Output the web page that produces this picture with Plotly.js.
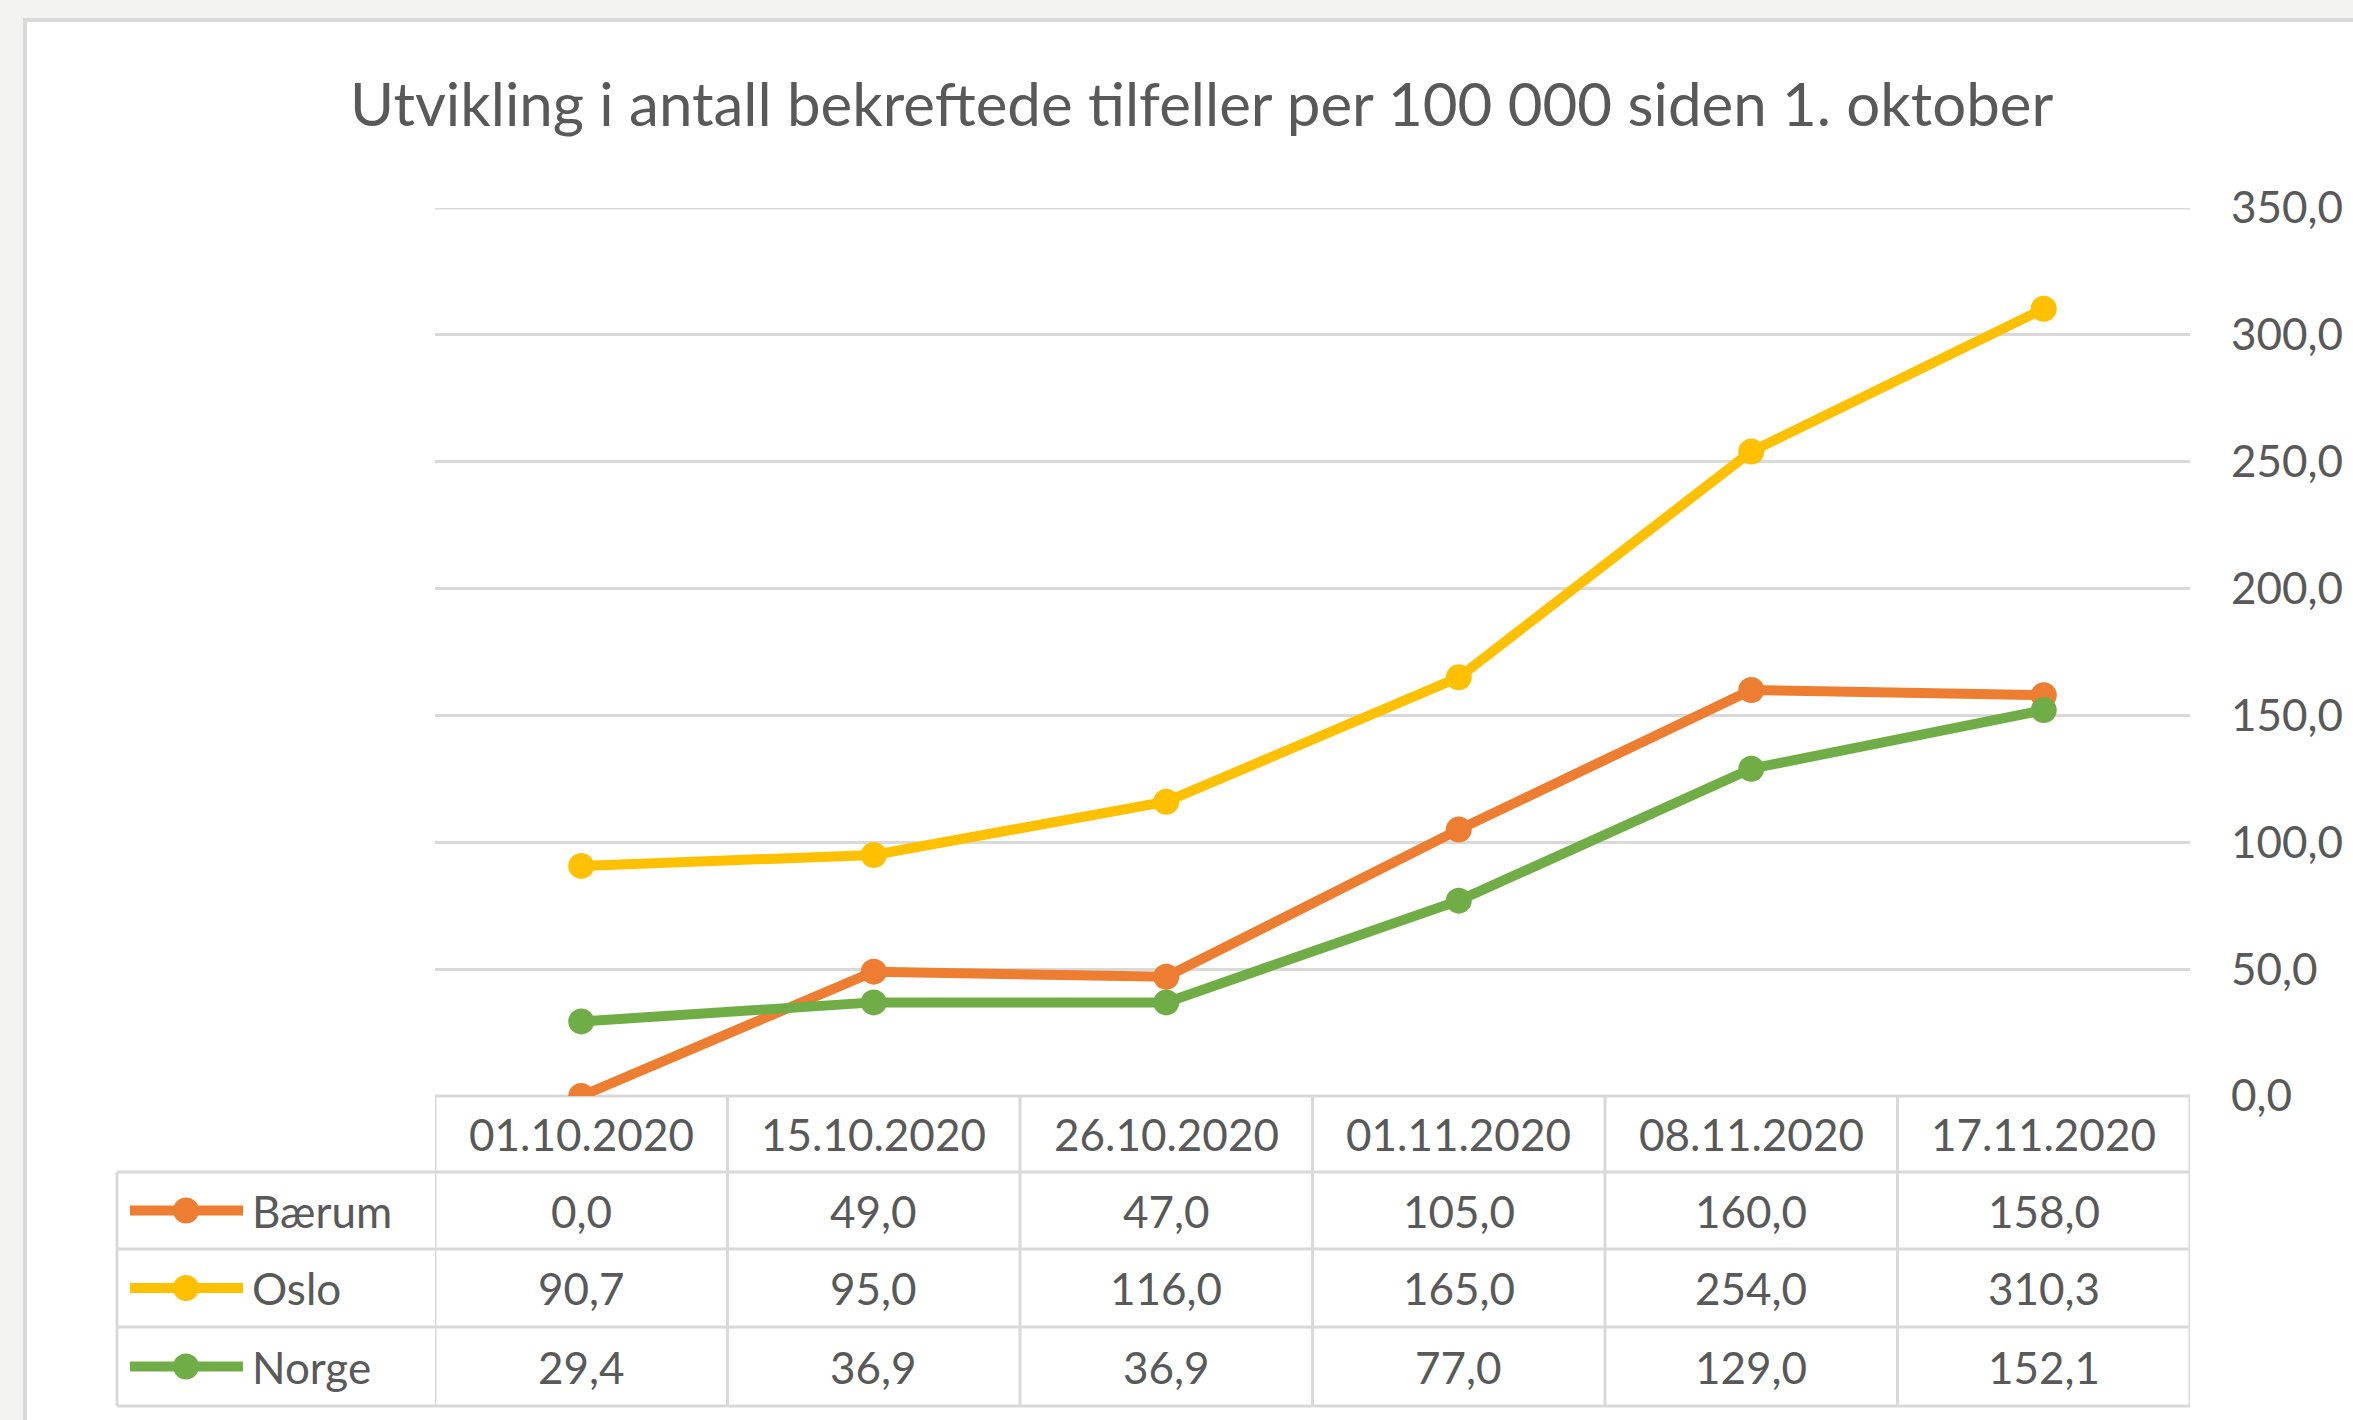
<!DOCTYPE html>
<html>
<head>
<meta charset="utf-8">
<script src="https://cdn.plot.ly/plotly-3.0.1.min.js"></script>
<style>
  html, body { margin: 0; padding: 0; background: #f3f4f2; overflow: hidden; }
  #card {
    position: absolute; left: 23px; top: 18px;
    border-left: 4px solid #d8d9d8; border-top: 4px solid #d8d9d8;
    background: #ffffff;
  }
  #chart { width: 2326px; height: 1398px; }
</style>
</head>
<body>
<div id="card"><div id="chart"></div></div>
<script>
// dates on the x axis / table header
var dates = ['01.10.2020', '15.10.2020', '26.10.2020', '01.11.2020', '08.11.2020', '17.11.2020'];

// cases per 100 000
var baerum = [0.0, 49.0, 47.0, 105.0, 160.0, 158.0];
var oslo   = [90.7, 95.0, 116.0, 165.0, 254.0, 310.3];
var norge  = [29.4, 36.9, 36.9, 77.0, 129.0, 152.1];

var names  = ['Bærum', 'Oslo', 'Norge'];
var series = [baerum, oslo, norge];
var colors = ['#ed7d31', '#ffc000', '#70ad47'];

var yTicks = [0, 50, 100, 150, 200, 250, 300, 350];

var textColor = '#595959';
var lineGrey = '#d9d9d9';
var font = 'Lato, "Open Sans", sans-serif';
var fs = 44;

// page pixel -> paper coords (plot area is 435..2190 x 208..1096 on the page)
var px = X => (X - 435) / 1755;
var py = Y => (1096 - Y) / 888;

// table row edges in page pixels
var rowEdges = [1096, 1172, 1249, 1327, 1406];

var traces = series.map((vals, i) => ({
  type: 'scatter',
  mode: 'lines+markers',
  name: names[i],
  x: dates,
  y: vals,
  line: { color: colors[i], width: 10 },
  marker: { color: colors[i], size: 26 },
  hoverinfo: 'skip'
}));

var shapes = [];
var annotations = [];

// top gridline (plotly drops the one sitting on the edge)
shapes.push({ type: 'line', layer: 'below', xref: 'paper', yref: 'y', x0: 0, x1: 1,
  y0: yTicks[yTicks.length - 1], y1: yTicks[yTicks.length - 1], line: { color: lineGrey, width: 3 } });

// table grid
shapes.push({ type: 'line', layer: 'below', xref: 'paper', yref: 'paper', x0: 0, x1: 1, y0: py(rowEdges[0]), y1: py(rowEdges[0]),
  line: { color: lineGrey, width: 3 } });
for (var r = 1; r < rowEdges.length; r++) {
  shapes.push({ type: 'line', layer: 'below', xref: 'paper', yref: 'paper', x0: px(117), x1: 1, y0: py(rowEdges[r]), y1: py(rowEdges[r]),
    line: { color: lineGrey, width: 3 } });
}
for (var c = 0; c <= dates.length; c++) {
  shapes.push({ type: 'line', layer: 'below', xref: 'x', yref: 'paper', x0: c - 0.5, x1: c - 0.5, y0: py(rowEdges[0]), y1: py(rowEdges[4]),
    line: { color: lineGrey, width: 3 } });
}
shapes.push({ type: 'line', layer: 'below', xref: 'paper', yref: 'paper', x0: px(117), x1: px(117), y0: py(rowEdges[1]), y1: py(rowEdges[4]),
  line: { color: lineGrey, width: 3 } });

// header
dates.forEach((d, i) => {
  annotations.push({ xref: 'x', yref: 'paper', x: i, y: py((rowEdges[0] + rowEdges[1]) / 2),
    xanchor: 'center', yanchor: 'middle',
    text: d, showarrow: false, font: { family: font, size: fs, color: textColor } });
});

// rows: legend key + values
series.forEach((vals, s) => {
  var yc = py((rowEdges[s + 1] + rowEdges[s + 2]) / 2);
  shapes.push({ type: 'line', xref: 'paper', yref: 'paper', x0: px(130), x1: px(243), y0: yc, y1: yc,
    line: { color: colors[s], width: 10 } });
  shapes.push({ type: 'circle', xref: 'paper', yref: 'paper', xsizemode: 'pixel', ysizemode: 'pixel',
    xanchor: px(186), yanchor: yc, x0: -13, x1: 13, y0: -13, y1: 13,
    fillcolor: colors[s], line: { width: 0 } });
  annotations.push({ xref: 'paper', yref: 'paper', x: px(250), y: yc, xanchor: 'left', yanchor: 'middle',
    text: names[s], showarrow: false, font: { family: font, size: fs, color: textColor } });
  vals.forEach((v, i) => {
    annotations.push({ xref: 'x', yref: 'paper', x: i, y: yc, xanchor: 'center', yanchor: 'middle',
      text: v.toFixed(1).replace('.', ','), showarrow: false,
      font: { family: font, size: fs, color: textColor } });
  });
});

var layout = {
  width: 2326,
  height: 1398,
  margin: { l: 408, r: 163, t: 186, b: 324 },
  paper_bgcolor: '#ffffff',
  plot_bgcolor: '#ffffff',
  separators: ', ',
  showlegend: false,
  font: { family: font, color: textColor },
  title: {
    text: 'Utvikling i antall bekreftede tilfeller per 100 000 siden 1. oktober',
    font: { family: font, size: 60, color: textColor },
    x: 0.505, xanchor: 'center', xref: 'container',
    y: 0.9406, yanchor: 'middle', yref: 'container'
  },
  xaxis: {
    type: 'category',
    categoryarray: dates,
    range: [-0.5, dates.length - 0.5],
    showticklabels: false,
    showgrid: false,
    zeroline: false,
    showline: false,
    fixedrange: true
  },
  yaxis: {
    side: 'right',
    range: [0, 350],
    tickvals: yTicks,
    tickformat: '.1f',
    showgrid: true,
    gridcolor: lineGrey,
    gridwidth: 3,
    zeroline: false,
    showline: false,
    ticks: '',
    ticklabelstandoff: 40,
    tickfont: { family: font, size: fs, color: textColor },
    fixedrange: true
  },
  shapes: shapes,
  annotations: annotations
};

Plotly.newPlot('chart', traces, layout, { displayModeBar: false, staticPlot: true });
</script>
</body>
</html>
